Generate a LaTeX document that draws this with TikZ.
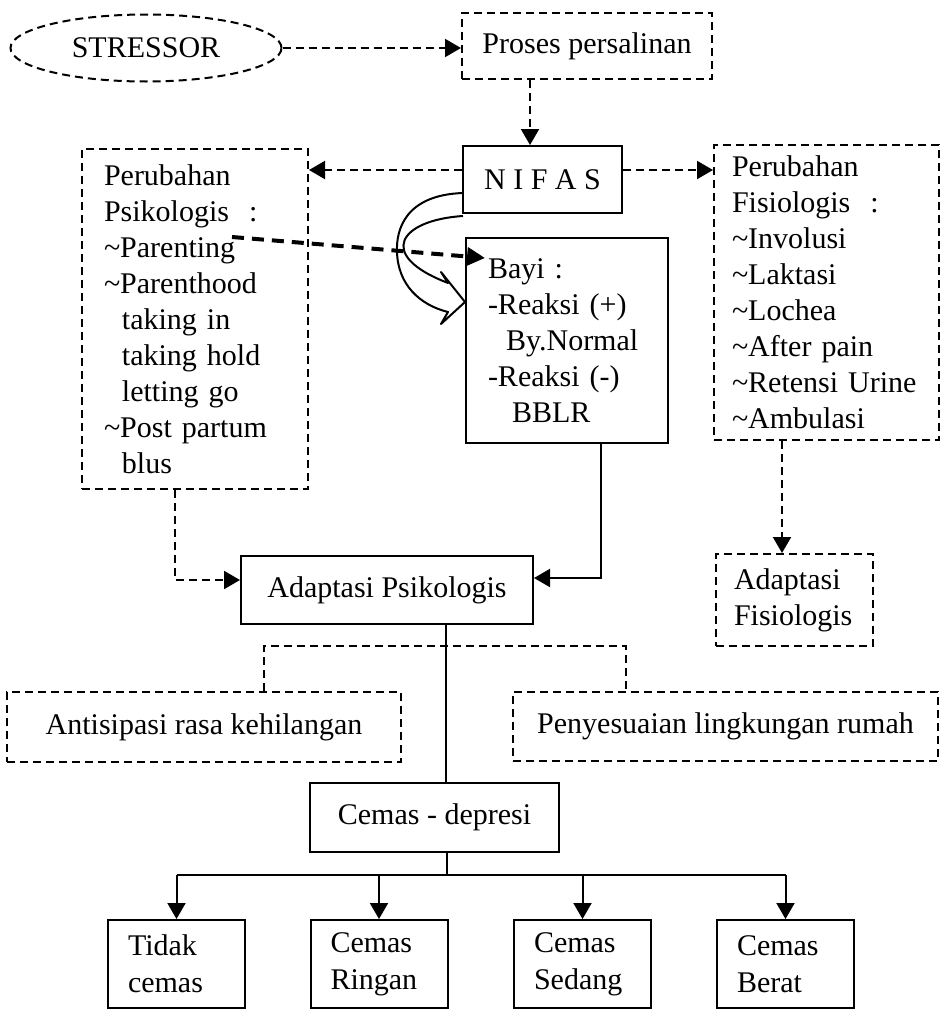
\documentclass[tikz,border=0pt]{standalone}
\usepackage{fontspec}
\setmainfont{Liberation Serif}
\usetikzlibrary{arrows.meta,shapes.geometric}

\begin{document}
\begin{tikzpicture}[x=0.5pt, y=-0.5pt, line width=1pt, font=\fontsize{15}{18}\selectfont,
solid box/.style={rectangle, draw, inner sep=0pt},
dash box/.style={rectangle, draw, inner sep=0pt, dash pattern=on 4pt off 2.5pt},
level box/.style={solid box, text width=48.5pt, inner xsep=10pt, minimum height=44pt, align=left, font=\fontsize{15}{18.5}\selectfont},
dash line/.style={dash pattern=on 4pt off 2.5pt},
dash arrow/.style={dash line, -{Triangle[length=8pt,width=9pt]}},
solid arrow/.style={-{Triangle[length=8pt,width=9pt]}},
bold dash/.style={line width=2pt, dash pattern=on 6pt off 4pt, -{Triangle[length=9pt,width=9pt]}}]

\useasboundingbox (0,0) rectangle (943,1012);

\node[dash box, ellipse, minimum width=135.5pt, minimum height=33.5pt] (stressor) at (146,48) {STRESSOR};
\node[dash box, minimum width=125pt, minimum height=33pt] (proses) at (587,46) {Proses persalinan};
\node[solid box, minimum width=79.5pt, minimum height=33.5pt] (nifas) at (542.5,179.5) {N I F A S};

\node[dash box, anchor=north west, text width=91pt, inner xsep=11pt, minimum height=170pt, align=left] (psiko) at (81,148)
  {Perubahan\\Psikologis~ :\\\textasciitilde Parenting\\\textasciitilde Parenthood\\\hspace*{0.6em}taking in\\\hspace*{0.6em}taking hold\\\hspace*{0.6em}letting go\\\textasciitilde Post partum\\\hspace*{0.6em}blus};
\node[dash box, anchor=north west, text width=94.5pt, inner xsep=9pt, minimum height=147.5pt, align=left] (fisio) at (713,144)
  {Perubahan\\Fisiologis~ :\\\textasciitilde Involusi\\\textasciitilde Laktasi\\\textasciitilde Lochea\\\textasciitilde After pain\\\textasciitilde Retensi Urine\\\textasciitilde Ambulasi};
\node[solid box, anchor=north west, text width=79pt, inner xsep=11pt, minimum height=102.5pt, align=left] (bayi) at (465,237)
  {Bayi :\\-Reaksi (+)\\\hspace*{0.6em}By.Normal\\-Reaksi (-)\\\hspace*{0.8em}BBLR};

\node[solid box, minimum width=146pt, minimum height=34pt] (adappsi) at (387,590) {Adaptasi Psikologis};
\node[dash box, anchor=north west, text width=60.5pt, inner xsep=9pt, minimum height=46pt, align=left] (adapfis) at (715,553) {Adaptasi\\Fisiologis};
\node[dash box, minimum width=197pt, minimum height=35pt] (antisipasi) at (204,727) {Antisipasi rasa kehilangan};
\node[dash box, minimum width=212.5pt, minimum height=34.5pt] (penyesuaian) at (725.5,726.5) {Penyesuaian lingkungan rumah};
\node[solid box, minimum width=124.5pt, minimum height=34.5pt] (cemas) at (434.5,817.5) {Cemas - depresi};

\node[level box] (tidak) at (176.5,964) {Tidak\\cemas};
\node[level box] (ringan) at (379,964) {Cemas\\Ringan};
\node[level box] (sedang) at (582.5,964) {Cemas\\Sedang};
\node[level box] (berat) at (785.5,964) {Cemas\\Berat};

% top arrows
\coordinate (nifasin) at ([xshift=-6.25pt]nifas.north);
\coordinate (nifasL) at ([yshift=4.75pt]nifas.west);
\coordinate (nifasR) at ([yshift=4.75pt]nifas.east);
\path (stressor.east) [dash arrow] edge (stressor.east -| proses.west);
\path (nifasin |- proses.south) [dash arrow] edge (nifasin);
\path (nifasL) [dash arrow] edge (nifasL -| psiko.east);
\path (nifasR) [dash arrow] edge (nifasR -| fisio.west);

% parenting to bayi
\coordinate (parenting) at (232,237);
\coordinate (bayitext) at (485,258);
\path (parenting) [bold dash] edge (bayitext);

% hollow curved arrow
\draw[line join=round] (463,193) .. controls (405,195) and (396,230) .. (397,252)
  .. controls (398,285) and (420,305) .. (448,312) -- (441,324) -- (465,302) -- (441,272) -- (448,283)
  .. controls (375,255) and (400,220) .. (463,216);

% to adaptasi
\coordinate (psikoout) at ([xshift=-10pt]psiko.south);
\coordinate (adappsiL) at ([yshift=5pt]adappsi.west);
\coordinate (bayiout) at ([xshift=17pt]bayi.south);
\coordinate (adappsiR) at ([yshift=6pt]adappsi.east);
\coordinate (fisioout) at ([xshift=-22.25pt]fisio.south);
\draw[dash arrow] (psikoout) |- (adappsiL);
\draw[solid arrow] (bayiout) |- (adappsiR);
\path (fisioout) [dash arrow] edge (fisioout |- adapfis.north);

% adaptasi to cemas
\coordinate (adappsiout) at ([xshift=29.5pt]adappsi.south);
\draw (adappsiout) -- (adappsiout |- cemas.north);
\coordinate (antiin) at ([xshift=30pt]antisipasi.north);
\coordinate (penyin) at ([xshift=-49.75pt]penyesuaian.north);
\draw[dash line] (antiin) -- ++(0,-45) -| (penyin);

% levels
\coordinate (cemasout) at ([xshift=6.25pt]cemas.south);
\coordinate (fork) at ([yshift=-11pt]cemasout);
\draw (cemasout) -- (fork);
\draw (fork -| tidak.north) -- (fork -| berat.north);
\foreach \lvl in {tidak,ringan,sedang,berat}
  \path (fork -| \lvl.north) [solid arrow] edge (\lvl.north);
\end{tikzpicture}
\end{document}
